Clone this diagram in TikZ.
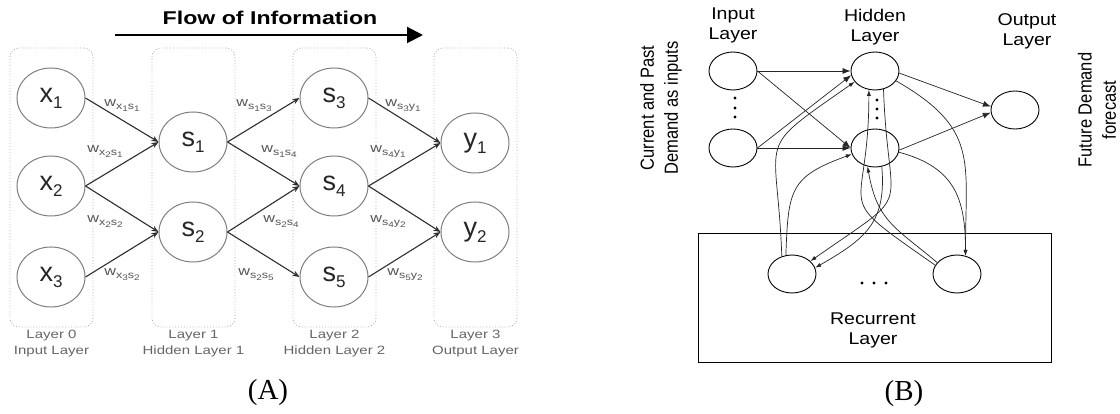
\documentclass[tikz,border=0pt]{standalone}
\usepackage{fontspec}
\setmainfont{Liberation Serif}
\newfontfamily\sfA[FakeStretch=1.25]{Liberation Sans}
\newfontfamily\sfN{Liberation Sans}
\newfontfamily\sfB[FakeStretch=1.15]{Liberation Sans}
\usetikzlibrary{arrows.meta,shapes.geometric}
\definecolor{ringA}{HTML}{7E7E7E}
\definecolor{boxA}{HTML}{B4B4B4}
\definecolor{arrA}{HTML}{2E2E2E}
\definecolor{labA}{HTML}{555555}
\definecolor{layA}{HTML}{666666}
\definecolor{txtA}{HTML}{262626}
\newcommand\nt[2]{#1\raisebox{-6pt}{\fontsize{17}{18}\selectfont #2}}
\newcommand\wl[4]{w\raisebox{-3pt}{\fontsize{10}{11}\selectfont #1\raisebox{-2pt}{\fontsize{8}{9}\selectfont #2}#3\raisebox{-2pt}{\fontsize{8}{9}\selectfont #4}}}
\begin{document}
\begin{tikzpicture}[x=1pt,y=1pt,
  neuronA/.style={ellipse, draw=ringA, line width=1pt, minimum width=68pt, minimum height=60pt, inner sep=0pt, text=txtA, font=\sfN\fontsize{27}{30}\selectfont},
  layerbox/.style={draw=boxA, dotted, line width=0.9pt, rounded corners=9pt, minimum width=83pt, minimum height=279pt, inner sep=0pt},
  edgeA/.style={draw=arrA, line width=1.1pt, -{Stealth[length=7pt,width=5.5pt]}},
  wlab/.style={text=labA, font=\sfA\fontsize{13}{14}\selectfont, inner sep=0pt},
  laylab/.style={text=layA, font=\sfA\fontsize{12}{16}\selectfont, align=center, inner sep=0pt},
  neuronB/.style={ellipse, draw=black, line width=0.9pt, minimum width=48pt, minimum height=38pt, inner sep=0pt},
  edgeB/.style={draw=black!85, line width=0.7pt, -{Latex[length=8pt,width=6pt]}},
  curveB/.style={draw=black!85, line width=0.7pt, -{Latex[length=6pt,width=4pt]}},
  txtB/.style={font=\sfB\fontsize{17}{20}\selectfont, align=center, inner sep=0pt},
  rotB/.style={font=\sfN\fontsize{16.5}{21}\selectfont, align=center, rotate=90, yscale=1.15, inner sep=0pt},
  caplab/.style={font=\fontsize{29}{30}\selectfont, inner sep=0pt}
]
\useasboundingbox[fill=white] (0,0) rectangle (1120,-414);

% ---------------- (A) ----------------
\node[font=\sfA\bfseries\fontsize{18.5}{20}\selectfont, inner sep=0pt] (title) at (270,-18) {Flow of Information};
\coordinate (fs) at (115,-35);
\coordinate (fe) at (423,-35);
\draw[line width=2pt, -{Triangle[length=16pt,width=16pt]}] (fs) -- (fe);

\node[layerbox] (b0) at (51.5,-187.5) {};
\node[layerbox] (b1) at (193.5,-187.5) {};
\node[layerbox] (b2) at (334.5,-187.5) {};
\node[layerbox] (b3) at (475.5,-187.5) {};

\node[neuronA] (x1) at (51,-98) {\nt{x}{1}};
\node[neuronA] (x2) at (51,-186) {\nt{x}{2}};
\node[neuronA] (x3) at (51,-277) {\nt{x}{3}};
\node[neuronA] (s1) at (193,-142) {\nt{s}{1}};
\node[neuronA] (s2) at (193,-232) {\nt{s}{2}};
\node[neuronA] (s3) at (334,-98) {\nt{s}{3}};
\node[neuronA] (s4) at (334,-186) {\nt{s}{4}};
\node[neuronA] (s5) at (334,-277) {\nt{s}{5}};
\node[neuronA] (y1) at (475,-143) {\nt{y}{1}};
\node[neuronA] (y2) at (475,-232) {\nt{y}{2}};

\draw[edgeA] (x1.east) -- (s1.west);
\draw[edgeA] (x2.east) -- (s1.west);
\draw[edgeA] (x2.east) -- (s2.west);
\draw[edgeA] (x3.east) -- (s2.west);
\draw[edgeA] (s1.east) -- (s3.west);
\draw[edgeA] (s1.east) -- (s4.west);
\draw[edgeA] (s2.east) -- (s4.west);
\draw[edgeA] (s2.east) -- (s5.west);
\draw[edgeA] (s3.east) -- (y1.west);
\draw[edgeA] (s4.east) -- (y1.west);
\draw[edgeA] (s4.east) -- (y2.west);
\draw[edgeA] (s5.east) -- (y2.west);

\node[wlab] (w1) at (122,-106) {\wl{x}{1}{s}{1}};
\node[wlab] (w2) at (105,-152) {\wl{x}{2}{s}{1}};
\node[wlab] (w3) at (105,-222) {\wl{x}{2}{s}{2}};
\node[wlab] (w4) at (122,-275) {\wl{x}{3}{s}{2}};
\node[wlab] (w5) at (254,-106) {\wl{s}{1}{s}{3}};
\node[wlab] (w6) at (279,-152) {\wl{s}{1}{s}{4}};
\node[wlab] (w7) at (281,-222) {\wl{s}{2}{s}{4}};
\node[wlab] (w8) at (256,-275) {\wl{s}{2}{s}{5}};
\node[wlab] (w9) at (403,-106) {\wl{s}{3}{y}{1}};
\node[wlab] (w10) at (388,-152) {\wl{s}{4}{y}{1}};
\node[wlab] (w11) at (388,-222) {\wl{s}{4}{y}{2}};
\node[wlab] (w12) at (405,-275) {\wl{s}{5}{y}{2}};

\node[laylab] (l0) at (51.5,-344) {Layer 0\\Input Layer};
\node[laylab] (l1) at (193.5,-344) {Layer 1\\Hidden Layer 1};
\node[laylab] (l2) at (334.5,-344) {Layer 2\\Hidden Layer 2};
\node[laylab] (l3) at (475.5,-344) {Layer 3\\Output Layer};

\node[caplab] (capA) at (268,-393) {(A)};

% ---------------- (B) ----------------
\node[draw=black, line width=0.9pt, minimum width=353pt, minimum height=129pt, inner sep=0pt] (rec) at (874.5,-297.5) {};

\node[txtB] (tin) at (733,-25) {Input\\Layer};
\node[txtB] (thid) at (875,-27) {Hidden\\Layer};
\node[txtB] (tout) at (1027,-31) {Output\\Layer};
\node[txtB] (trec) at (873,-330) {Recurrent\\Layer};
\node[rotB] (tcur) at (661,-108) {Current and Past\\Demand as inputs};
\node[rotB] (tfut) at (1097,-110) {Future Demand\\forecast};

\node[neuronB] (I1) at (733,-71) {};
\node[neuronB] (I2) at (733,-148) {};
\node[neuronB] (H1) at (875,-71) {};
\node[neuronB] (H2) at (875,-148) {};
\node[neuronB] (O) at (1015,-110) {};
\node[neuronB] (L) at (792,-274) {};
\node[neuronB] (R) at (957,-274) {};

\foreach \yy in {-98,-108,-117} \fill (735,\yy) circle (1.7);
\foreach \yy in {-100,-109,-118} \fill (877,\yy) circle (1.7);
\foreach \xx in {862,874,886} \fill (\xx,-283) circle (1.7);

\draw[edgeB] (I1.east) -- (H1.west);
\draw[edgeB] (I1.east) -- (H2.west);
\draw[edgeB] (I2.east) -- (H1.190);
\draw[edgeB] (I2.east) -- (H2.west);
\draw[edgeB] (H1.-5) -- (O.172);
\draw[edgeB] (H2.-5) -- (O.186);

\draw[curveB] (L.120) to[out=92,in=-145,looseness=1.7] (H1.208);
\draw[curveB] (L.108) to[out=88,in=-160,looseness=1.4] (H2.195);
\draw[curveB] (H1.-65) to[out=-88,in=35,looseness=1.8] (L.35);
\draw[curveB] (H2.-70) to[out=-85,in=30,looseness=1.2] (L.15);
\draw[curveB] (R.158) to[out=145,in=-90,looseness=1.8] (H1.-108);
\draw[curveB] (R.150) to[out=140,in=-80,looseness=1.2] (H2.-112);
\draw[curveB] (H1.-25) to[out=-30,in=90,looseness=1.3] (R.65);
\draw[curveB] (H2.-10) to[out=-15,in=90,looseness=1.2] (R.65);

\node[caplab] (capB) at (904,-394) {(B)};
\end{tikzpicture}
\end{document}
